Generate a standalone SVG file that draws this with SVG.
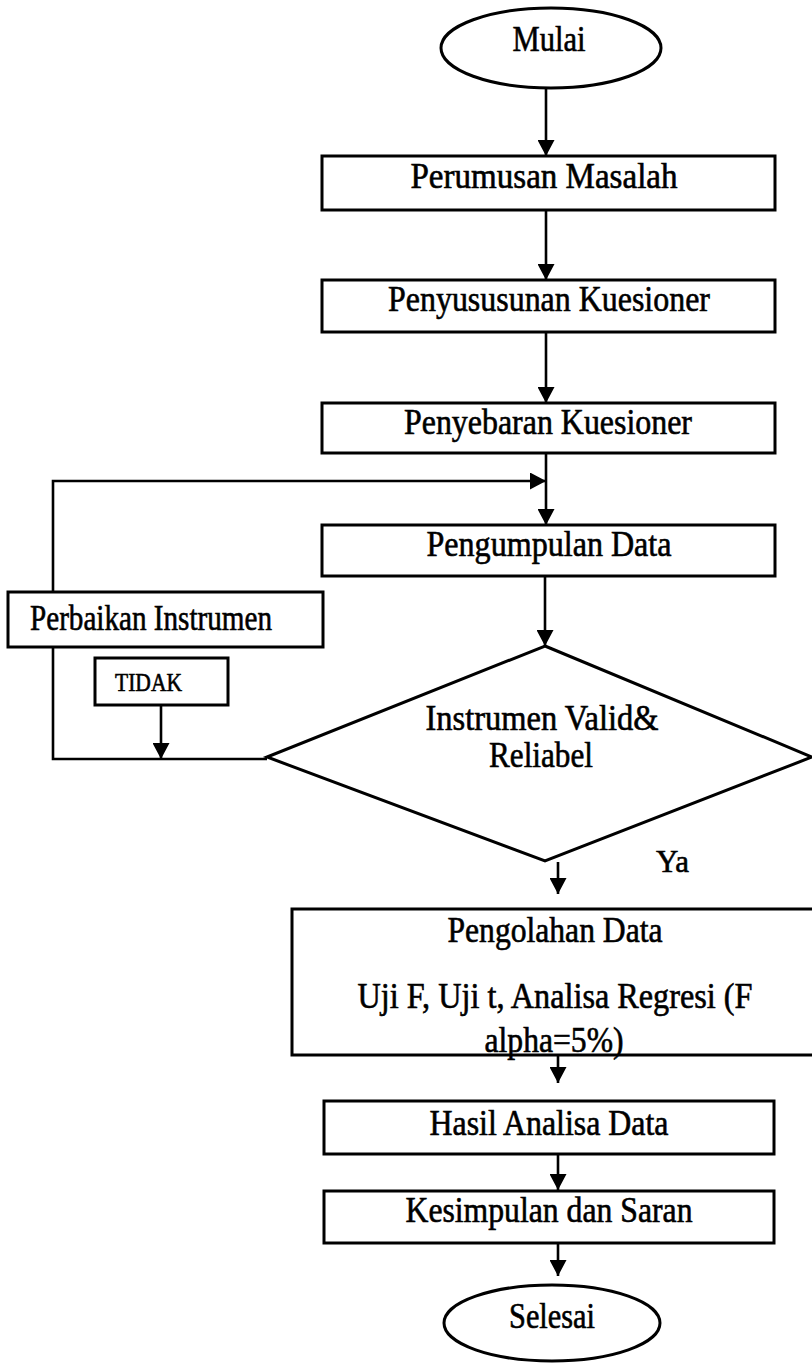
<svg xmlns="http://www.w3.org/2000/svg" width="812" height="1363" viewBox="0 0 812 1363">
<style>
.s{fill:#fff;stroke:#000;stroke-width:3}
.c{fill:none;stroke:#000;stroke-width:2.6}
.t{font-family:"Liberation Serif","Times New Roman",serif;font-size:35px;fill:#000;stroke:#000;stroke-width:0.6;text-anchor:middle}
</style>
<defs>
<marker id="ah" viewBox="0 0 16 17" refX="16" refY="8.5" markerWidth="16" markerHeight="17" markerUnits="userSpaceOnUse" orient="auto">
<path d="M0,0 L16,8.5 L0,17 Z" fill="#000"/>
</marker>
</defs>
<rect width="812" height="1363" fill="#fff"/>
<g id="connectors">
<line class="c" x1="546" y1="88" x2="546" y2="156" marker-end="url(#ah)"/>
<line class="c" x1="546" y1="210" x2="546" y2="280" marker-end="url(#ah)"/>
<line class="c" x1="546" y1="332" x2="546" y2="403" marker-end="url(#ah)"/>
<line class="c" x1="546" y1="453" x2="546" y2="525" marker-end="url(#ah)"/>
<polyline class="c" points="53,592 53,481 546,481" marker-end="url(#ah)"/>
<polyline class="c" points="53,647 53,759 267,759"/>
<line class="c" x1="161" y1="705" x2="161" y2="759" marker-end="url(#ah)"/>
<line class="c" x1="545" y1="576" x2="545" y2="646" marker-end="url(#ah)"/>
<line class="c" x1="558" y1="862" x2="558" y2="894" marker-end="url(#ah)"/>
<line class="c" x1="558" y1="1055" x2="558" y2="1083" marker-end="url(#ah)"/>
<line class="c" x1="558" y1="1154" x2="558" y2="1190" marker-end="url(#ah)"/>
<line class="c" x1="558" y1="1243" x2="558" y2="1276" marker-end="url(#ah)"/>
</g>
<g id="mulai">
<ellipse class="s" cx="551" cy="48" rx="110" ry="40"/>
<text class="t" x="549" y="51" textLength="73" lengthAdjust="spacingAndGlyphs">Mulai</text>
</g>
<g id="perumusan">
<rect class="s" x="322" y="156" width="453" height="54"/>
<text class="t" x="544" y="188" textLength="267" lengthAdjust="spacingAndGlyphs">Perumusan Masalah</text>
</g>
<g id="penyususunan">
<rect class="s" x="322" y="280" width="453" height="52"/>
<text class="t" x="549" y="311" textLength="322" lengthAdjust="spacingAndGlyphs">Penyususunan Kuesioner</text>
</g>
<g id="penyebaran">
<rect class="s" x="322" y="403" width="453" height="50"/>
<text class="t" x="548" y="434" textLength="288" lengthAdjust="spacingAndGlyphs">Penyebaran Kuesioner</text>
</g>
<g id="pengumpulan">
<rect class="s" x="322" y="525" width="453" height="51"/>
<text class="t" x="549" y="556" textLength="245" lengthAdjust="spacingAndGlyphs">Pengumpulan Data</text>
</g>
<g id="perbaikan">
<rect class="s" x="8" y="592" width="315" height="55"/>
<text class="t" x="30" y="630" style="text-anchor:start" textLength="242" lengthAdjust="spacingAndGlyphs">Perbaikan Instrumen</text>
</g>
<g id="tidak">
<rect class="s" x="95" y="658" width="133" height="47"/>
<text class="t" x="115" y="691" style="text-anchor:start;font-size:25px" textLength="67" lengthAdjust="spacingAndGlyphs">TIDAK</text>
</g>
<g id="keputusan">
<polygon class="s" points="545,646 812,757 545,861 267,757"/>
<text class="t" x="542" y="730" textLength="233" lengthAdjust="spacingAndGlyphs">Instrumen Valid&amp;</text>
<text class="t" x="541" y="767" textLength="104" lengthAdjust="spacingAndGlyphs">Reliabel</text>
</g>
<g id="ya">
<text class="t" x="656" y="872" style="text-anchor:start;font-size:31px" textLength="33" lengthAdjust="spacingAndGlyphs">Ya</text>
</g>
<g id="pengolahan">
<rect class="s" x="292" y="909" width="530" height="146"/>
<text class="t" x="555" y="942" textLength="215" lengthAdjust="spacingAndGlyphs">Pengolahan Data</text>
<text class="t" x="555" y="1008" textLength="395" lengthAdjust="spacingAndGlyphs">Uji F, Uji t, Analisa Regresi (F</text>
<text class="t" x="554" y="1052" textLength="139" lengthAdjust="spacingAndGlyphs">alpha=5%)</text>
</g>
<g id="hasil">
<rect class="s" x="324" y="1101" width="450" height="53"/>
<text class="t" x="549" y="1135" textLength="239" lengthAdjust="spacingAndGlyphs">Hasil Analisa Data</text>
</g>
<g id="kesimpulan">
<rect class="s" x="324" y="1191" width="450" height="52"/>
<text class="t" x="549" y="1222" textLength="287" lengthAdjust="spacingAndGlyphs">Kesimpulan dan Saran</text>
</g>
<g id="selesai">
<ellipse class="s" cx="552" cy="1323" rx="108" ry="38"/>
<text class="t" x="552" y="1328" textLength="86" lengthAdjust="spacingAndGlyphs">Selesai</text>
</g>
</svg>
